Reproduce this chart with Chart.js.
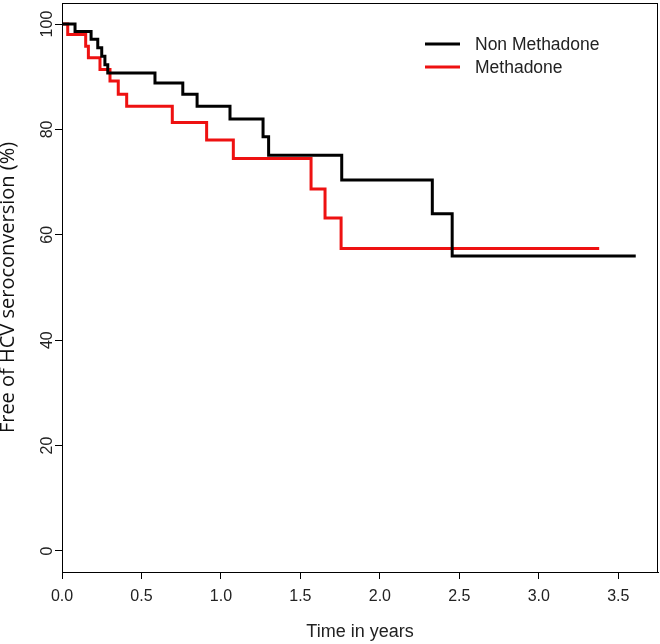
<!DOCTYPE html>
<html>
<head>
<meta charset="utf-8">
<script src="https://cdn.jsdelivr.net/npm/chart.js@4/dist/chart.umd.min.js"></script>
<style>
  html, body { margin: 0; padding: 0; background: #fff; }
  #wrap { width: 660px; height: 644px; position: relative; }
</style>
</head>
<body>
<div id="wrap"><canvas id="km"></canvas></div>
<script>
// Kaplan-Meier curves (time in years, % free of seroconversion)
const seriesNames = ["Non Methadone", "Methadone"];
const nonMethTime = [0, 0.082, 0.183, 0.225, 0.25, 0.27, 0.288, 0.585, 0.76, 0.85, 1.057, 1.265, 1.30, 1.76, 2.33, 2.455, 3.61];
const nonMethSurv = [100, 98.6, 97.1, 95.5, 93.9, 92.3, 90.7, 88.8, 86.7, 84.4, 82.0, 78.6, 75.1, 70.4, 64.0, 56.0, 56.0];
const methTime = [0, 0.036, 0.149, 0.166, 0.239, 0.302, 0.354, 0.407, 0.694, 0.91, 1.078, 1.567, 1.655, 1.756, 3.38];
const methSurv = [100, 98.0, 95.8, 93.6, 91.4, 89.2, 86.7, 84.4, 81.3, 78.0, 74.5, 68.7, 63.2, 57.4, 57.4];
const yTicks = [0, 20, 40, 60, 80, 100];

const lineColors = ["#000000", "#ee1111"];

function toPoints(xs, ys) {
  return xs.map((x, i) => ({ x: x, y: ys[i] }));
}

// draws the frame, the rotated y labels and the legend the way R does
const rStyle = {
  id: "rStyle",
  afterDraw(chart) {
    const ctx = chart.ctx;
    const a = chart.chartArea;
    const ys = chart.scales.y;
    ctx.save();
    ctx.strokeStyle = "#000";
    ctx.lineWidth = 1;
    ctx.strokeRect(a.left + 0.5, a.top + 0.5, a.right - a.left - 1, a.bottom - a.top);

    ctx.fillStyle = "#222";
    ctx.font = "16px 'Liberation Sans', Arial, sans-serif";
    ctx.textAlign = "center";
    ctx.textBaseline = "middle";
    yTicks.forEach(v => {
      const py = ys.getPixelForValue(v);
      ctx.save();
      ctx.translate(48, py);
      ctx.rotate(-Math.PI / 2);
      ctx.fillText(String(v), 0, 0);
      ctx.restore();
    });

    ctx.font = "17.5px 'Liberation Sans', Arial, sans-serif";
    ctx.textAlign = "left";
    chart.data.datasets.forEach((ds, i) => {
      const ly = 44 + i * 23;
      ctx.strokeStyle = ds.borderColor;
      ctx.lineWidth = 3;
      ctx.beginPath();
      ctx.moveTo(425, ly);
      ctx.lineTo(460, ly);
      ctx.stroke();
      ctx.fillText(ds.label, 475, ly + 1);
    });
    ctx.restore();
  }
};

new Chart(document.getElementById("km"), {
  type: "line",
  data: {
    datasets: [
      {
        label: seriesNames[0],
        data: toPoints(nonMethTime, nonMethSurv),
        borderColor: lineColors[0],
        borderWidth: 3,
        stepped: "before",
        pointRadius: 0,
        fill: false,
        order: 0
      },
      {
        label: seriesNames[1],
        data: toPoints(methTime, methSurv),
        borderColor: lineColors[1],
        borderWidth: 3,
        stepped: "before",
        pointRadius: 0,
        fill: false,
        order: 1
      }
    ]
  },
  options: {
    responsive: true,
    maintainAspectRatio: false,
    animation: false,
    layout: { padding: { top: 3, right: 2, left: 0, bottom: 0 } },
    plugins: {
      legend: { display: false },
      tooltip: { enabled: false }
    },
    scales: {
      x: {
        type: "linear",
        min: 0,
        max: 3.75,
        afterFit: s => { s.height = 72; },
        ticks: {
          stepSize: 0.5,
          includeBounds: false,
          padding: 8,
          color: "#222",
          font: { family: "'Liberation Sans', Arial, sans-serif", size: 16 },
          callback: v => Number(v).toFixed(1)
        },
        grid: { drawOnChartArea: false, tickLength: 7, color: "#000" },
        border: { display: true, color: "#000" },
        title: {
          display: true,
          text: "Time in years",
          color: "#222",
          font: { family: "'Liberation Sans', Arial, sans-serif", size: 18 },
          padding: { top: 0, bottom: 1 }
        }
      },
      y: {
        type: "linear",
        min: -4,
        max: 104,
        afterFit: s => { s.width = 62; },
        ticks: { stepSize: 20, includeBounds: false, display: false },
        grid: { drawOnChartArea: false, tickLength: 7, color: "#000" },
        border: { display: true, color: "#000" },
        title: {
          display: true,
          text: "Free of HCV seroconversion (%)",
          color: "#111",
          font: { family: "'Open Sans', 'Noto Sans', sans-serif", size: 20, lineHeight: 0.85 },
          padding: 0
        }
      }
    }
  },
  plugins: [rStyle]
});
</script>
</body>
</html>
